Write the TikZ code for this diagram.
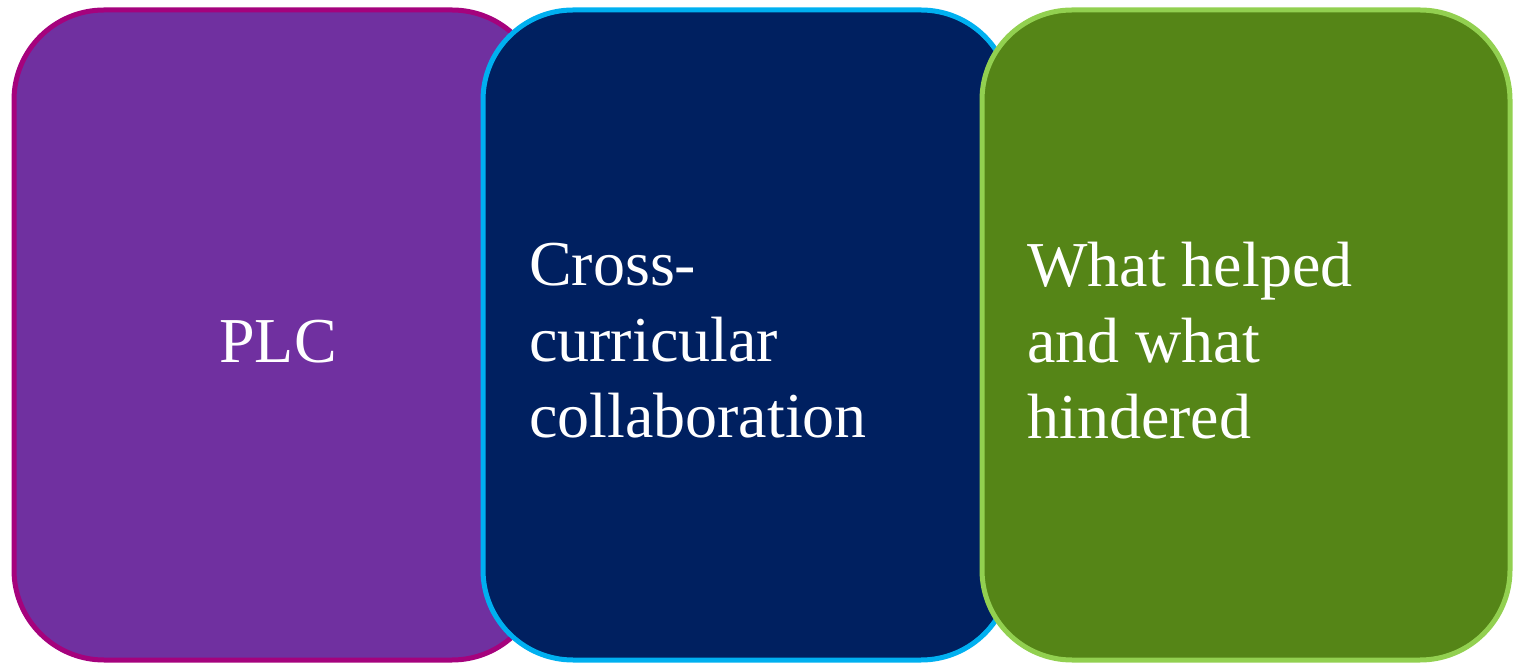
\documentclass[tikz,border=0pt]{standalone}
\usepackage{fontspec}
\setmainfont{Liberation Serif}
\definecolor{purplefill}{HTML}{7030A0}
\definecolor{purpleline}{HTML}{A5027D}
\definecolor{navyfill}{HTML}{002060}
\definecolor{navyline}{HTML}{00B0F0}
\definecolor{greenfill}{HTML}{558517}
\definecolor{greenline}{HTML}{92D050}
\tikzset{
  panel/.style={draw, line width=5pt, rounded corners=90pt, minimum width=528pt, minimum height=650pt, inner sep=0pt},
  label/.style={text=white, inner sep=0pt, font=\fontsize{64}{76}\selectfont, align=left}
}
\begin{document}
\begin{tikzpicture}[x=1pt,y=1pt]
\useasboundingbox (0,0) rectangle (1520,664);
\node[panel, fill=purplefill, draw=purpleline] (b1) at (278,329) {};
\node[panel, fill=navyfill, draw=navyline] (b2) at (747,329) {};
\node[panel, fill=greenfill, draw=greenline] (b3) at (1246,329) {};
\node[label, anchor=base] (t1) at (278,301) {PLC};
\node[label, anchor=west] (t2) at (529,323) {Cross-\\curricular\\collaboration};
\node[label, anchor=west] (t3) at (1027,323) {What helped\\and what\\hindered};
\end{tikzpicture}
\end{document}
